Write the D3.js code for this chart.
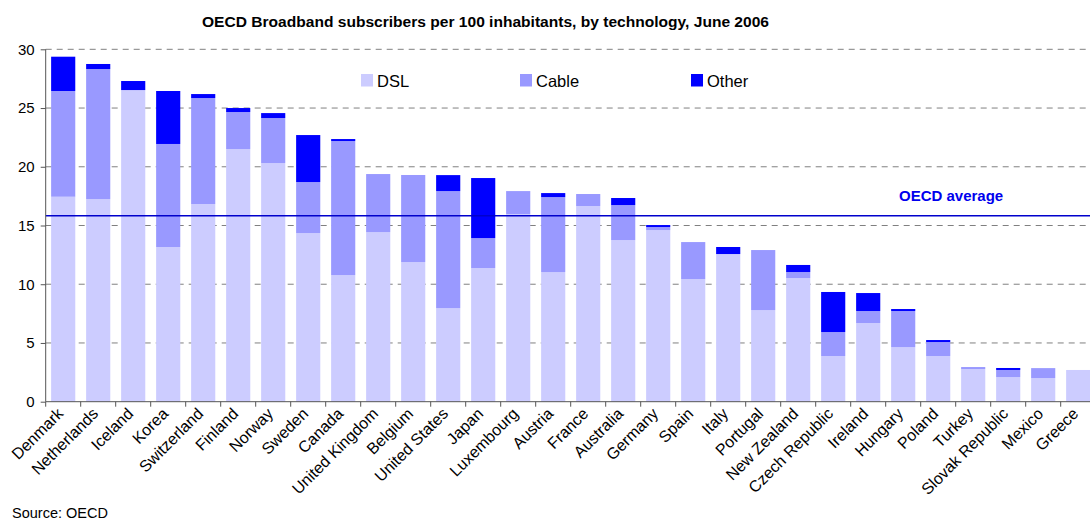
<!DOCTYPE html>
<html>
<head>
<meta charset="utf-8">
<script src="https://cdn.jsdelivr.net/npm/d3@7/dist/d3.min.js"></script>
<style>
  html, body { margin: 0; padding: 0; background: #ffffff; }
  svg { display: block; font-family: "Liberation Sans", Arial, sans-serif; }
</style>
</head>
<body>
<svg id="chart" width="1090" height="522"></svg>
<script>
// Broadband subscribers per 100 inhabitants, June 2006
const countries = ["Denmark", "Netherlands", "Iceland", "Korea", "Switzerland", "Finland", "Norway",
  "Sweden", "Canada", "United Kingdom", "Belgium", "United States", "Japan", "Luxembourg", "Austria",
  "France", "Australia", "Germany", "Spain", "Italy", "Portugal", "New Zealand", "Czech Republic",
  "Ireland", "Hungary", "Poland", "Turkey", "Slovak Republic", "Mexico", "Greece"];

const dsl   = [17.45, 17.25, 26.53, 13.17, 16.83, 21.51, 20.32, 14.36, 10.78, 14.44, 11.89, 7.97, 11.38, 15.98, 11.04,
               16.66, 13.76, 14.61, 10.44, 12.57, 7.80, 10.53, 3.89, 6.70, 4.65, 3.89, 2.78, 2.10, 2.01, 2.70];
const cable = [9.00, 11.07, 0, 8.77, 9.02, 3.15, 3.83, 4.34, 11.41, 4.94, 7.41, 9.96, 2.55, 1.95, 6.38,
               1.02, 2.98, 0.26, 3.15, 0, 5.11, 0.51, 2.04, 1.02, 3.07, 1.19, 0.17, 0.60, 0.85, 0];
const other = [2.92, 0.43, 0.77, 4.51, 0.34, 0.34, 0.42, 4.00, 0.17, 0, 0, 1.36, 5.11, 0, 0.34,
               0, 0.60, 0.17, 0, 0.60, 0, 0.60, 3.41, 1.53, 0.17, 0.17, 0, 0.17, 0, 0];

const oecdAverage = 15.83;
const yTicks = [0, 5, 10, 15, 20, 25, 30];
const seriesNames = ["DSL", "Cable", "Other"];
const seriesColors = ["#ccccff", "#9999ff", "#0000ff"];

const rows = countries.map((c, i) => ({ country: c, DSL: dsl[i], Cable: cable[i], Other: other[i] }));
const stacked = d3.stack().keys(seriesNames)(rows);

const svg = d3.select("#chart");
const plotLeft = 45.7, step = 35, plotRight = plotLeft + step * countries.length;
const plotTop = 49.3, plotBottom = 401.7;

const x = d3.scaleBand().domain(countries).range([plotLeft, plotRight])
  .paddingInner(0.31).paddingOuter(0.155);
const y = d3.scaleLinear().domain([0, 30]).range([plotBottom, plotTop]);
const color = d3.scaleOrdinal().domain(seriesNames).range(seriesColors);

// dashed horizontal gridlines
svg.append("g").selectAll("line").data(yTicks.filter(t => t > 0)).join("line")
  .attr("x1", plotLeft).attr("x2", plotRight)
  .attr("y1", d => y(d)).attr("y2", d => y(d))
  .attr("stroke", "#808080").attr("stroke-width", 1)
  .attr("stroke-dasharray", "6,5");

// stacked bars
svg.append("g").selectAll("g").data(stacked).join("g")
  .attr("fill", d => color(d.key))
  .selectAll("rect").data(d => d).join("rect")
  .attr("x", d => x(d.data.country))
  .attr("width", x.bandwidth())
  .attr("y", d => y(d[1]))
  .attr("height", d => Math.max(0, y(d[0]) - y(d[1])));

// OECD average reference line
svg.append("line")
  .attr("x1", plotLeft).attr("x2", plotRight)
  .attr("y1", y(oecdAverage)).attr("y2", y(oecdAverage))
  .attr("stroke", "#0000cc").attr("stroke-width", 1.6);
svg.append("text")
  .attr("x", 899).attr("y", y(oecdAverage) - 15)
  .attr("font-size", 15).attr("font-weight", "bold").attr("fill", "#0000ee")
  .text("OECD average");

// y axis
const yAxis = svg.append("g").attr("transform", `translate(${plotLeft},0)`)
  .call(d3.axisLeft(y).tickValues(yTicks).tickSize(5).tickPadding(6));
yAxis.select(".domain").attr("stroke", "#555555").attr("d", `M0,${plotTop}V${plotBottom}`);
yAxis.selectAll(".tick line").attr("stroke", "#555555");
yAxis.selectAll(".tick text").attr("font-size", 15).attr("fill", "#000")
  .attr("font-family", "Liberation Sans, Arial, sans-serif");

// x axis: category labels
const xAxis = svg.append("g").attr("transform", `translate(0,${plotBottom})`)
  .call(d3.axisBottom(x).tickSize(0).tickPadding(0));
xAxis.select(".domain").attr("stroke", "#555555").attr("d", `M${plotLeft},0H${plotRight}`);
xAxis.selectAll(".tick text")
  .attr("font-size", 16).attr("fill", "#000")
  .attr("font-family", "Liberation Sans, Arial, sans-serif")
  .attr("text-anchor", "end")
  .attr("dy", null)
  .attr("y", 0)
  .attr("transform", "translate(1,13) rotate(-45)");

// x axis: tick marks between categories
xAxis.append("g").selectAll("line").data(d3.range(countries.length + 1)).join("line")
  .attr("x1", i => plotLeft + i * x.step()).attr("x2", i => plotLeft + i * x.step())
  .attr("y1", 0).attr("y2", 5)
  .attr("stroke", "#555555");

// legend
const legendX = [361, 520, 691];
const legend = svg.append("g").selectAll("g").data(seriesNames).join("g")
  .attr("transform", (d, i) => `translate(${legendX[i]},74)`);
legend.append("rect").attr("width", 12).attr("height", 12.5).attr("fill", d => color(d));
legend.append("text").attr("x", 16).attr("y", 12.5).attr("font-size", 16.5).attr("fill", "#000").text(d => d);

// title
svg.append("text")
  .attr("x", 202).attr("y", 27)
  .attr("font-size", 14.5).attr("font-weight", "bold").attr("fill", "#000")
  .attr("textLength", 567).attr("lengthAdjust", "spacingAndGlyphs")
  .text("OECD Broadband subscribers per 100 inhabitants, by technology, June 2006");

// source note
svg.append("text")
  .attr("x", 12).attr("y", 518)
  .attr("font-size", 14.5).attr("fill", "#000")
  .text("Source: OECD");
</script>
</body>
</html>
